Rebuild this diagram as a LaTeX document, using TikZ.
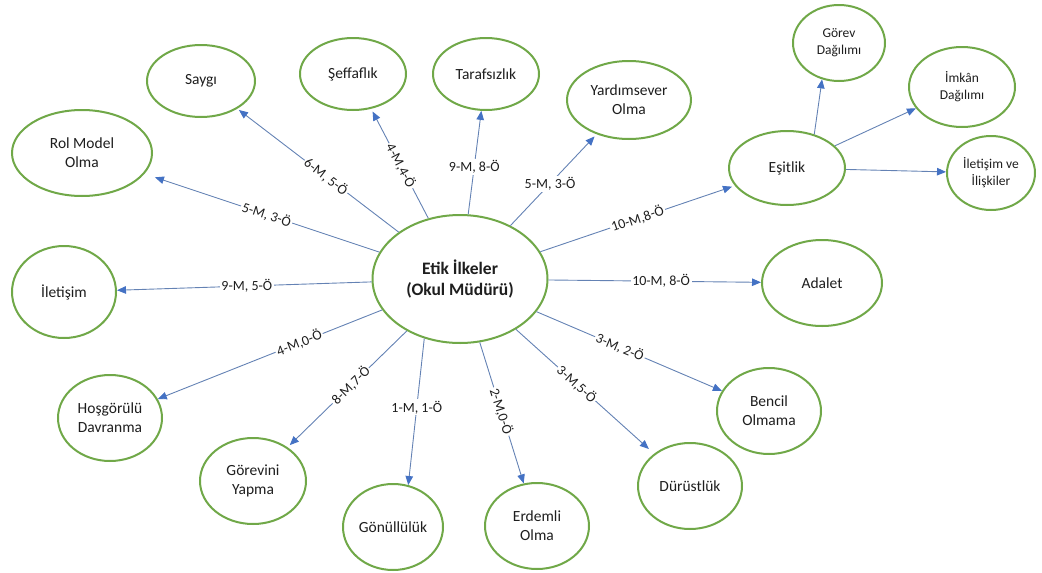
\documentclass[tikz,border=0pt]{standalone}
\usepackage{fontspec}
\setmainfont{Carlito}
\usetikzlibrary{shapes.geometric,arrows.meta}
\definecolor{ringgreen}{RGB}{112,168,72}
\definecolor{linkblue}{RGB}{100,130,180}
\definecolor{tipblue}{RGB}{68,114,196}
\definecolor{inktext}{RGB}{30,30,30}

\begin{document}
\begin{tikzpicture}[x=1pt,y=-1pt,
  bubble/.style={ellipse,draw=ringgreen,line width=2pt,fill=white,inner sep=0pt,
    align=center,text=inktext,font=\fontsize{15.5}{19}\selectfont},
  smallbubble/.style={bubble,font=\fontsize{13.5}{17}\selectfont},
  hub/.style={bubble,font=\bfseries\fontsize{17.5}{21}\selectfont},
  link/.style={draw=linkblue,line width=0.9pt,
    -{Triangle[length=9pt,width=7.5pt,color=tipblue]}},
  count/.style={fill=white,inner sep=1.5pt,text=inktext,
    font=\fontsize{14}{16}\selectfont},
]
\useasboundingbox (0,0) rectangle (1042,573);

% central principle
\node[hub,minimum width=175pt,minimum height=128pt] (c) at (460,279)
  {Etik İlkeler\\(Okul Müdürü)};

% surrounding principles
\node[bubble,minimum width=108pt,minimum height=72pt] (saygi) at (201,81) {Saygı};
\node[bubble,minimum width=106pt,minimum height=72pt] (seff) at (353,74) {Şeffaflık};
\node[bubble,minimum width=106pt,minimum height=72pt] (taraf) at (486,74) {Tarafsızlık};
\node[bubble,minimum width=124pt,minimum height=78pt] (yard) at (629,100) {Yardımsever\\Olma};
\node[bubble,minimum width=140pt,minimum height=86pt] (rol) at (82,153) {Rol Model\\Olma};
\node[bubble,minimum width=104pt,minimum height=92pt] (ilet) at (64,292) {İletişim};
\node[bubble,minimum width=104pt,minimum height=86pt] (hosg) at (110,418) {Hoşgörülü\\Davranma};
\node[bubble,minimum width=106pt,minimum height=86pt] (gorevini) at (253,481) {Görevini\\Yapma};
\node[bubble,minimum width=100pt,minimum height=86pt] (gonul) at (393,527) {Gönüllülük};
\node[bubble,minimum width=104pt,minimum height=86pt] (erdem) at (537,526) {Erdemli\\Olma};
\node[bubble,minimum width=104pt,minimum height=86pt] (durust) at (690,486) {Dürüstlük};
\node[bubble,minimum width=104pt,minimum height=86pt] (bencil) at (769,411) {Bencil\\Olmama};
\node[bubble,minimum width=120pt,minimum height=86pt] (adalet) at (822,283) {Adalet};
\node[bubble,minimum width=116pt,minimum height=74pt] (esit) at (787,168) {Eşitlik};

% sub-principles of equality
\node[smallbubble,minimum width=92pt,minimum height=76pt] (gorev) at (839,43) {Görev\\Dağılımı};
\node[smallbubble,minimum width=106pt,minimum height=80pt] (imkan) at (962,87) {İmkân\\Dağılımı};
\node[smallbubble,minimum width=88pt,minimum height=74pt] (iliski) at (991,173) {İletişim ve\\İlişkiler};

% links from the centre, labelled with counts
\draw[link,shorten >=2pt] (c) -- node[count,sloped,pos=0.45]{6-M, 5-Ö} (saygi);
\draw[link,shorten >=3pt] (c) -- node[count,sloped,pos=0.48]{4-M,4-Ö} (seff);
\draw[link] (c) -- node[count,pos=0.46]{9-M, 8-Ö} (taraf);
\draw[link,shorten >=3pt] (c) -- node[count,pos=0.46]{5-M, 3-Ö} (yard);
\draw[link,shorten >=11pt] (c) -- node[count,sloped,pos=0.48]{5-M, 3-Ö} (rol);
\draw[link] (c) -- node[count,pos=0.49]{9-M, 5-Ö} (ilet);
\draw[link] (c) -- node[count,sloped,pos=0.37]{4-M,0-Ö} (hosg);
\draw[link,shorten >=3pt] (c) -- node[count,sloped,pos=0.47]{8-M,7-Ö} (gorevini);
\draw[link] (c.-121) -- node[count,pos=0.47]{1-M, 1-Ö} (gonul.70);
\draw[link] (c) -- node[count,sloped,pos=0.49]{2-M,0-Ö} (erdem);
\draw[link,shorten >=7pt] (c) -- node[count,sloped,pos=0.44]{3-M,5-Ö} (durust);
\draw[link] (c) -- node[count,sloped,pos=0.45]{3-M, 2-Ö} (bencil);
\draw[link] (c) -- node[count,pos=0.53]{10-M, 8-Ö} (adalet);
\draw[link,shorten >=3pt] (c) -- node[count,sloped,pos=0.5]{10-M,8-Ö} (esit);

% links from equality to its sub-principles
\draw[link] (esit.51) -- (gorev.-115);
\draw[link] (esit) -- (imkan);
\draw[link] (esit) -- (iliski);
\end{tikzpicture}
\end{document}
